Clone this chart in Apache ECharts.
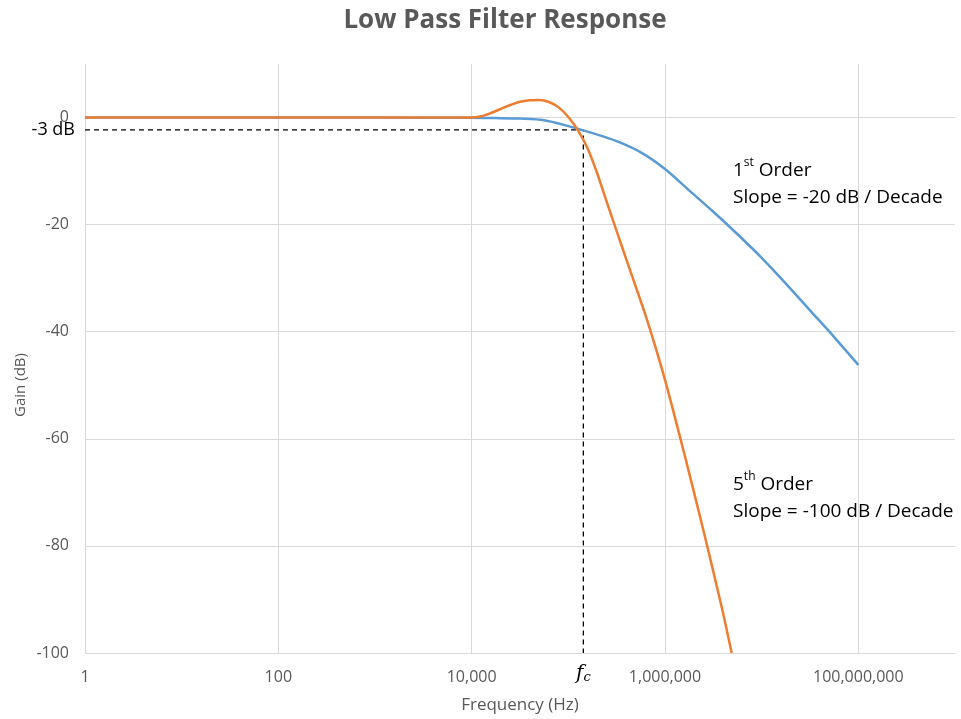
<!DOCTYPE html>
<html>
<head>
<meta charset="utf-8">
<script src="https://cdn.jsdelivr.net/npm/echarts@6/dist/echarts.min.js"></script>
<style>
html,body{margin:0;padding:0;background:#fff;}
#chart{width:961px;height:719px;}
</style>
</head>
<body>
<div id="chart"></div>
<script>
// ---- data ----
const titleText = 'Low Pass Filter Response';
const xName = 'Frequency (Hz)';
const yName = 'Gain (dB)';

const firstOrderFreq = [1, 100, 1000, 10000, 17783, 31623, 56234, 100000, 177828, 316228, 562341, 1000000, 1778279, 3162278, 5623413, 10000000, 17782794, 31622777, 56234133, 100000000];
const firstOrderGain = [0, 0, 0, -0.05, -0.1, -0.2, -0.5, -1.6, -2.9, -4.4, -6.5, -9.6, -13.6, -17.6, -21.8, -26.2, -31.0, -36.0, -41.0, -46.2];

const fifthOrderFreq = [1, 100, 1000, 10000, 12589, 15849, 19953, 25119, 31623, 39811, 50119, 63096, 79433, 100000, 125893, 158489, 199526, 251189, 316228, 398107, 501187, 630957, 794328, 1000000, 1258925, 1584893, 1995262, 2511886, 3162278, 3981072, 4897788];
const fifthOrderGain = [0, 0, 0, 0, 0.25, 0.85, 1.6, 2.35, 2.95, 3.25, 3.3, 2.9, 1.9, 0.1, -2.4, -5.8, -10.5, -15.9, -21.2, -26.5, -31.7, -37.0, -42.8, -49.0, -55.8, -62.8, -70.0, -77.3, -84.8, -92.5, -100];

const cutoffFreq = 143000;   // f_c
const cutoffGain = -2.3;     // where the "-3 dB" guide is drawn
const cutoffLabel = '-3 dB';

const xTickValues = [1, 100, 10000, 1000000, 100000000];
const yMin = -100, yMax = 10, yStep = 20;

const FONT = 'Open Sans';

function zip(a, b) { return a.map((v, i) => [v, b[i]]); }

const chart = echarts.init(document.getElementById('chart'), null, {renderer: 'canvas'});

const supRich = {
  n: {fontSize: 19, lineHeight: 27, fontFamily: FONT, fill: '#000'},
  s: {fontSize: 12, lineHeight: 18, verticalAlign: 'top', fontFamily: FONT, fill: '#000'}
};

const option = {
  animation: false,
  backgroundColor: '#ffffff',
  textStyle: {fontFamily: FONT},
  title: {
    text: titleText,
    left: 500,
    textAlign: 'center',
    top: 3,
    textStyle: {fontFamily: FONT, fontSize: 26, fontWeight: 'bold', color: '#595959'}
  },
  grid: {left: 85, right: 6, top: 64, bottom: 66, containLabel: false},
  xAxis: {
    type: 'log',
    logBase: 100,
    min: 1,
    max: 1e9,
    axisLine: {show: false},
    axisTick: {show: true, length: 5, lineStyle: {color: '#d9d9d9'}},
    splitLine: {show: true, showMinLine: true, showMaxLine: false, lineStyle: {color: '#d9d9d9', width: 1}},
    axisLabel: {
      showMaxLabel: false,
      color: '#595959', fontSize: 16, fontFamily: FONT, margin: 16,
      formatter: function (v) {
        const n = Number(v);
        const hit = xTickValues.find(t => Math.abs(t - n) / t < 1e-6);
        return hit === undefined ? '' : hit.toLocaleString('en-US');
      }
    },
    name: xName,
    nameLocation: 'middle',
    nameGap: 44,
    nameTextStyle: {color: '#595959', fontSize: 17, fontFamily: FONT}
  },
  yAxis: {
    type: 'value',
    min: yMin, max: yMax, interval: yStep,
    axisLine: {show: false},
    axisTick: {show: false},
    splitLine: {show: true, showMinLine: true, showMaxLine: false, lineStyle: {color: '#d9d9d9', width: 1}},
    axisLabel: {showMaxLabel: false, color: '#595959', fontSize: 16, fontFamily: FONT, margin: 16}
  },
  series: [
    {
      name: 'guide',
      type: 'line',
      silent: true,
      z: 2,
      symbol: 'circle', symbolSize: 0, showSymbol: true,
      lineStyle: {color: '#000', width: 1.3, type: [5, 4]},
      data: [
        {value: [1, cutoffGain], label: {show: true, position: 'left', distance: 10, formatter: cutoffLabel, color: '#000', fontSize: 18, fontFamily: FONT}},
        [cutoffFreq, cutoffGain],
        {value: [cutoffFreq, yMin], label: {
          show: true, position: 'bottom', distance: 11,
          formatter: '{f|f}{c|c}',
          rich: {
            f: {fontFamily: 'DejaVu Serif', fontStyle: 'italic', fontSize: 20, color: '#000'},
            c: {fontFamily: 'DejaVu Serif', fontStyle: 'italic', fontSize: 13, color: '#000', verticalAlign: 'bottom'}
          }
        }}
      ]
    },
    {
      name: '1st Order',
      type: 'line',
      silent: true,
      z: 3,
      smooth: 0.3,
      symbol: 'none',
      lineStyle: {color: '#5b9bd5', width: 2.5},
      data: zip(firstOrderFreq, firstOrderGain)
    },
    {
      name: '5th Order',
      type: 'line',
      silent: true,
      z: 4,
      smooth: 0.3,
      symbol: 'none',
      lineStyle: {color: '#ed7d31', width: 2.5},
      data: zip(fifthOrderFreq, fifthOrderGain)
    }
  ],
  graphic: [
    {
      type: 'text', x: 21, y: 385, rotation: Math.PI / 2, silent: true,
      style: {text: yName, fill: '#595959', fontSize: 15, fontFamily: FONT, align: 'center', verticalAlign: 'middle'}
    },
    {
      type: 'text', left: 733, top: 157, silent: true,
      style: {text: '{n|1}{s|st}{n| Order}\n{n|Slope = -20 dB / Decade}', fill: '#000', rich: supRich}
    },
    {
      type: 'text', left: 733, top: 471, silent: true,
      style: {text: '{n|5}{s|th}{n| Order}\n{n|Slope = -100 dB / Decade}', fill: '#000', rich: supRich}
    }
  ]
};

chart.setOption(option);
</script>
</body>
</html>
